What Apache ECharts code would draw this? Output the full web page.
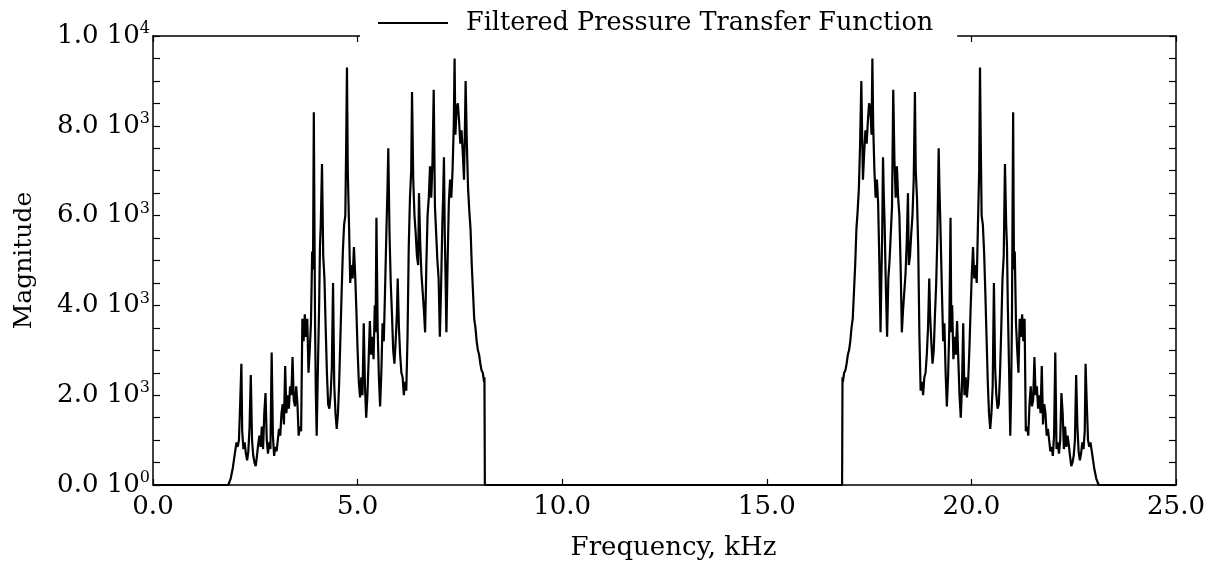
<!DOCTYPE html>
<html>
<head>
<meta charset="utf-8">
<script src="https://cdn.jsdelivr.net/npm/echarts@6/dist/echarts.min.js"></script>
<style>
  html, body { margin: 0; padding: 0; background: #fff; }
  #chart { width: 1217px; height: 567px; }
</style>
</head>
<body>
<div id="chart"></div>
<script>
// lower band (kHz / magnitude)
const freqLow = [0, 1.84, 1.90, 1.95, 2.00, 2.04, 2.07, 2.10, 2.13, 2.16, 2.18, 2.21, 2.24, 2.27, 2.30, 2.33, 2.36, 2.39, 2.42, 2.45,
  2.48, 2.51, 2.54, 2.57, 2.60, 2.63, 2.66, 2.69, 2.72, 2.75, 2.78, 2.81, 2.84, 2.87, 2.90, 2.93, 2.96, 2.99, 3.02, 3.05,
  3.08, 3.11, 3.14, 3.17, 3.20, 3.23, 3.26, 3.29, 3.32, 3.35, 3.38, 3.41, 3.44, 3.47, 3.50, 3.53, 3.56, 3.59, 3.62, 3.65,
  3.68, 3.71, 3.74, 3.77, 3.80, 3.83, 3.86, 3.89, 3.91, 3.93, 3.96, 3.98, 4.00, 4.03, 4.06, 4.08, 4.10, 4.13, 4.16, 4.19,
  4.22, 4.25, 4.28, 4.31, 4.34, 4.37, 4.40, 4.43, 4.46, 4.49, 4.52, 4.55, 4.58, 4.61, 4.64, 4.67, 4.70, 4.72, 4.74, 4.76,
  4.79, 4.82, 4.85, 4.88, 4.91, 4.94, 4.97, 5.00, 5.03, 5.06, 5.09, 5.12, 5.15, 5.18, 5.21, 5.24, 5.27, 5.30, 5.33, 5.36,
  5.39, 5.42, 5.44, 5.46, 5.49, 5.52, 5.55, 5.58, 5.61, 5.64, 5.67, 5.70, 5.73, 5.75, 5.78, 5.81, 5.84, 5.87, 5.90, 5.93,
  5.96, 5.98, 6.01, 6.04, 6.07, 6.10, 6.13, 6.16, 6.19, 6.22, 6.25, 6.28, 6.31, 6.33, 6.36, 6.39, 6.42, 6.45, 6.48, 6.50,
  6.53, 6.56, 6.59, 6.62, 6.65, 6.68, 6.71, 6.74, 6.77, 6.80, 6.83, 6.86, 6.89, 6.92, 6.95, 6.98, 7.01, 7.04, 7.07, 7.09,
  7.11, 7.13, 7.15, 7.17, 7.20, 7.23, 7.26, 7.29, 7.32, 7.35, 7.37, 7.39, 7.42, 7.45, 7.48, 7.51, 7.54, 7.57, 7.60, 7.62,
  7.64, 7.67, 7.70, 7.73, 7.76, 7.79, 7.82, 7.85, 7.88, 7.91, 7.94, 7.97, 8.00, 8.03, 8.06, 8.09, 8.10, 8.11];
const magLow = [0, 0, 150, 380, 700, 950, 850, 1000, 1800, 2700, 1200, 800, 950, 700, 550, 750, 1300, 2450, 1000, 650,
  500, 420, 650, 900, 1100, 850, 1300, 800, 1600, 2050, 1000, 700, 950, 800, 2950, 1100, 650, 850, 750, 1000,
  1250, 1100, 1600, 1800, 1350, 2650, 1600, 2000, 1700, 2200, 2000, 2850, 1900, 1750, 2200, 1800, 1100, 1300, 1200, 3700,
  3200, 3800, 3300, 3700, 2500, 3000, 3600, 5200, 4800, 8300, 3600, 2000, 1100, 2600, 4000, 5300, 5800, 7150, 5100, 4600,
  3500, 2500, 1800, 1700, 2000, 2600, 4500, 2200, 1600, 1250, 1600, 2300, 3300, 4300, 5200, 5800, 6000, 7500, 9300, 7000,
  5800, 4500, 4900, 4600, 5300, 4700, 3900, 3000, 2300, 1950, 2400, 2000, 3600, 2200, 1500, 2000, 2800, 3650, 2900, 3300,
  2800, 4000, 3400, 5950, 3500, 2400, 1750, 2500, 3600, 3200, 4300, 5500, 6600, 7500, 5600, 4500, 3800, 3000, 2700, 3200,
  3800, 4600, 3500, 2900, 2500, 2400, 2000, 2300, 2100, 3300, 5300, 6400, 7000, 8750, 6800, 6000, 5600, 5100, 4900, 6500,
  5400, 4700, 4300, 3900, 3400, 4900, 6000, 6400, 7100, 6400, 7200, 8800, 6200, 5600, 5000, 4600, 3300, 4400, 5800, 6400,
  7300, 5600, 4600, 3400, 5000, 6300, 6800, 6400, 7000, 8000, 9500, 7800, 8400, 8500, 8100, 7600, 7900, 7400, 6800, 7800,
  9000, 7600, 6600, 6100, 5700, 4900, 4300, 3700, 3500, 3200, 3000, 2900, 2700, 2550, 2500, 2300, 2400, 0];

// upper (mirrored) band
const freqHigh = [16.84, 16.85, 16.86, 16.89, 16.92, 16.95, 16.98, 17.01, 17.04, 17.07, 17.10, 17.13, 17.16, 17.19, 17.22, 17.25, 17.28, 17.31, 17.33, 17.35,
  17.38, 17.41, 17.44, 17.47, 17.50, 17.53, 17.56, 17.58, 17.60, 17.63, 17.66, 17.69, 17.72, 17.75, 17.78, 17.80, 17.82, 17.84, 17.86, 17.88,
  17.91, 17.94, 17.97, 18.00, 18.03, 18.06, 18.09, 18.12, 18.15, 18.18, 18.21, 18.24, 18.27, 18.30, 18.33, 18.36, 18.39, 18.42, 18.45, 18.47,
  18.50, 18.53, 18.56, 18.59, 18.62, 18.64, 18.67, 18.70, 18.73, 18.76, 18.79, 18.82, 18.85, 18.88, 18.91, 18.94, 18.97, 18.99, 19.02, 19.05,
  19.08, 19.11, 19.14, 19.17, 19.20, 19.22, 19.25, 19.28, 19.31, 19.34, 19.37, 19.40, 19.43, 19.46, 19.49, 19.51, 19.53, 19.56, 19.59, 19.62,
  19.65, 19.68, 19.71, 19.74, 19.77, 19.80, 19.83, 19.86, 19.89, 19.92, 19.95, 19.98, 20.01, 20.04, 20.07, 20.10, 20.13, 20.16, 20.19, 20.21,
  20.23, 20.25, 20.28, 20.31, 20.34, 20.37, 20.40, 20.43, 20.46, 20.49, 20.52, 20.55, 20.58, 20.61, 20.64, 20.67, 20.70, 20.73, 20.76, 20.79,
  20.82, 20.85, 20.87, 20.89, 20.92, 20.95, 20.97, 20.99, 21.02, 21.04, 21.06, 21.09, 21.12, 21.15, 21.18, 21.21, 21.24, 21.27, 21.30, 21.33,
  21.36, 21.39, 21.42, 21.45, 21.48, 21.51, 21.54, 21.57, 21.60, 21.63, 21.66, 21.69, 21.72, 21.75, 21.78, 21.81, 21.84, 21.87, 21.90, 21.93,
  21.96, 21.99, 22.02, 22.05, 22.08, 22.11, 22.14, 22.17, 22.20, 22.23, 22.26, 22.29, 22.32, 22.35, 22.38, 22.41, 22.44, 22.47, 22.50, 22.53,
  22.56, 22.59, 22.62, 22.65, 22.68, 22.71, 22.74, 22.77, 22.79, 22.82, 22.85, 22.88, 22.91, 22.95, 23.00, 23.05, 23.11, 25];
const magHigh = [0, 2400, 2300, 2500, 2550, 2700, 2900, 3000, 3200, 3500, 3700, 4300, 4900, 5700, 6100, 6600, 7600, 9000, 7800, 6800,
  7400, 7900, 7600, 8100, 8500, 8400, 7800, 9500, 8000, 7000, 6400, 6800, 6300, 5000, 3400, 4600, 5600, 7300, 6400, 5800,
  4400, 3300, 4600, 5000, 5600, 6200, 8800, 7200, 6400, 7100, 6400, 6000, 4900, 3400, 3900, 4300, 4700, 5400, 6500, 4900,
  5100, 5600, 6000, 6800, 8750, 7000, 6400, 5300, 3300, 2100, 2300, 2000, 2400, 2500, 2900, 3500, 4600, 3800, 3200, 2700,
  3000, 3800, 4500, 5600, 7500, 6600, 5500, 4300, 3200, 3600, 2500, 1750, 2400, 3500, 5950, 3400, 4000, 2800, 3300, 2900,
  3650, 2800, 2000, 1500, 2200, 3600, 2000, 2400, 1950, 2300, 3000, 3900, 4700, 5300, 4600, 4900, 4500, 5800, 7000, 9300,
  7500, 6000, 5800, 5200, 4300, 3300, 2300, 1600, 1250, 1600, 2200, 4500, 2600, 2000, 1700, 1800, 2500, 3500, 4600, 5100,
  7150, 5800, 5300, 4000, 2600, 1100, 2000, 3600, 8300, 4800, 5200, 3600, 3000, 2500, 3700, 3300, 3800, 3200, 3700, 1200,
  1300, 1100, 1800, 2200, 1750, 1900, 2850, 2000, 2200, 1700, 2000, 1600, 2650, 1350, 1800, 1600, 1100, 1250, 1000, 750,
  850, 650, 1100, 2950, 800, 950, 700, 1000, 2050, 1600, 800, 1300, 850, 1100, 900, 650, 420, 500, 650, 1000,
  2450, 1300, 750, 550, 700, 950, 800, 1200, 2700, 1800, 1000, 850, 950, 700, 380, 150, 0, 0];

const seriesName = 'Filtered Pressure Transfer Function';
const xTickValues = [0, 5, 10, 15, 20, 25];
const yTickValues = [0, 2000, 4000, 6000, 8000, 10000];
const yMantissa = ['0.0', '2.0', '4.0', '6.0', '8.0', '1.0'];
const yExponent = ['0', '3', '3', '3', '3', '4'];

const font = 'DejaVu Serif';
const ink = '#000';

const points = [];
freqLow.forEach((f, i) => points.push([f, magLow[i]]));
freqHigh.forEach((f, i) => points.push([f, magHigh[i]]));

const chart = echarts.init(document.getElementById('chart'));

const baseX = {
  type: 'value',
  min: 0,
  max: 25,
  interval: 5,
  axisLine: { show: true, onZero: false, lineStyle: { color: ink, width: 1.5 } },
  axisTick: { show: true, inside: true, length: 6, lineStyle: { color: ink, width: 1.2 } },
  splitLine: { show: false }
};
const baseY = {
  type: 'value',
  min: 0,
  max: 10000,
  interval: 500,
  axisLine: { show: true, onZero: false, lineStyle: { color: ink, width: 1.5 } },
  axisTick: { show: true, inside: true, length: 7, lineStyle: { color: ink, width: 1.2 } },
  splitLine: { show: false }
};

const option = {
  animation: false,
  backgroundColor: '#fff',
  grid: { left: 153, right: 41, top: 36, bottom: 82 },
  legend: {
    data: [seriesName],
    left: 360,
    top: 4,
    padding: [6, 24, 6, 18],
    backgroundColor: '#fff',
    icon: 'rect',
    itemWidth: 70,
    itemHeight: 2,
    formatter: name => '{t|' + name + '}',
    textStyle: {
      color: ink,
      fontFamily: font,
      fontSize: 25.5,
      rich: { t: { fontFamily: font, fontSize: 25.5, color: ink, padding: [0, 0, 0, 13] } }
    }
  },
  xAxis: [
    Object.assign({}, baseX, {
      position: 'bottom',
      axisLabel: {
        color: ink, fontFamily: font, fontSize: 26, margin: 9,
        formatter: v => xTickValues.indexOf(v) >= 0 ? v.toFixed(1) : ''
      },
      name: 'Frequency, kHz',
      nameLocation: 'middle',
      nameGap: 50,
      nameTextStyle: { color: ink, fontFamily: font, fontSize: 26, padding: [0, 0, 0, 18] }
    }),
    Object.assign({}, baseX, { position: 'top', axisLabel: { show: false } })
  ],
  yAxis: [
    Object.assign({}, baseY, {
      position: 'left',
      axisLabel: {
        margin: 3,
        formatter: v => {
          const k = yTickValues.indexOf(v);
          return k >= 0 ? '{m|' + yMantissa[k] + ' 10}{e|' + yExponent[k] + '}' : '';
        },
        rich: {
          m: { color: ink, fontFamily: font, fontSize: 26 },
          e: { color: ink, fontFamily: font, fontSize: 16, padding: [0, 0, 14, 0] }
        }
      },
      name: 'Magnitude',
      nameLocation: 'middle',
      nameRotate: 90,
      nameGap: 116,
      nameTextStyle: { color: ink, fontFamily: font, fontSize: 25 }
    }),
    Object.assign({}, baseY, { position: 'right', axisLabel: { show: false } })
  ],
  series: [
    {
      name: seriesName,
      type: 'line',
      xAxisIndex: 0,
      yAxisIndex: 0,
      data: points,
      showSymbol: false,
      symbol: 'none',
      lineStyle: { color: ink, width: 2.2 },
      itemStyle: { color: ink }
    }
  ]
};

chart.setOption(option);
</script>
</body>
</html>
